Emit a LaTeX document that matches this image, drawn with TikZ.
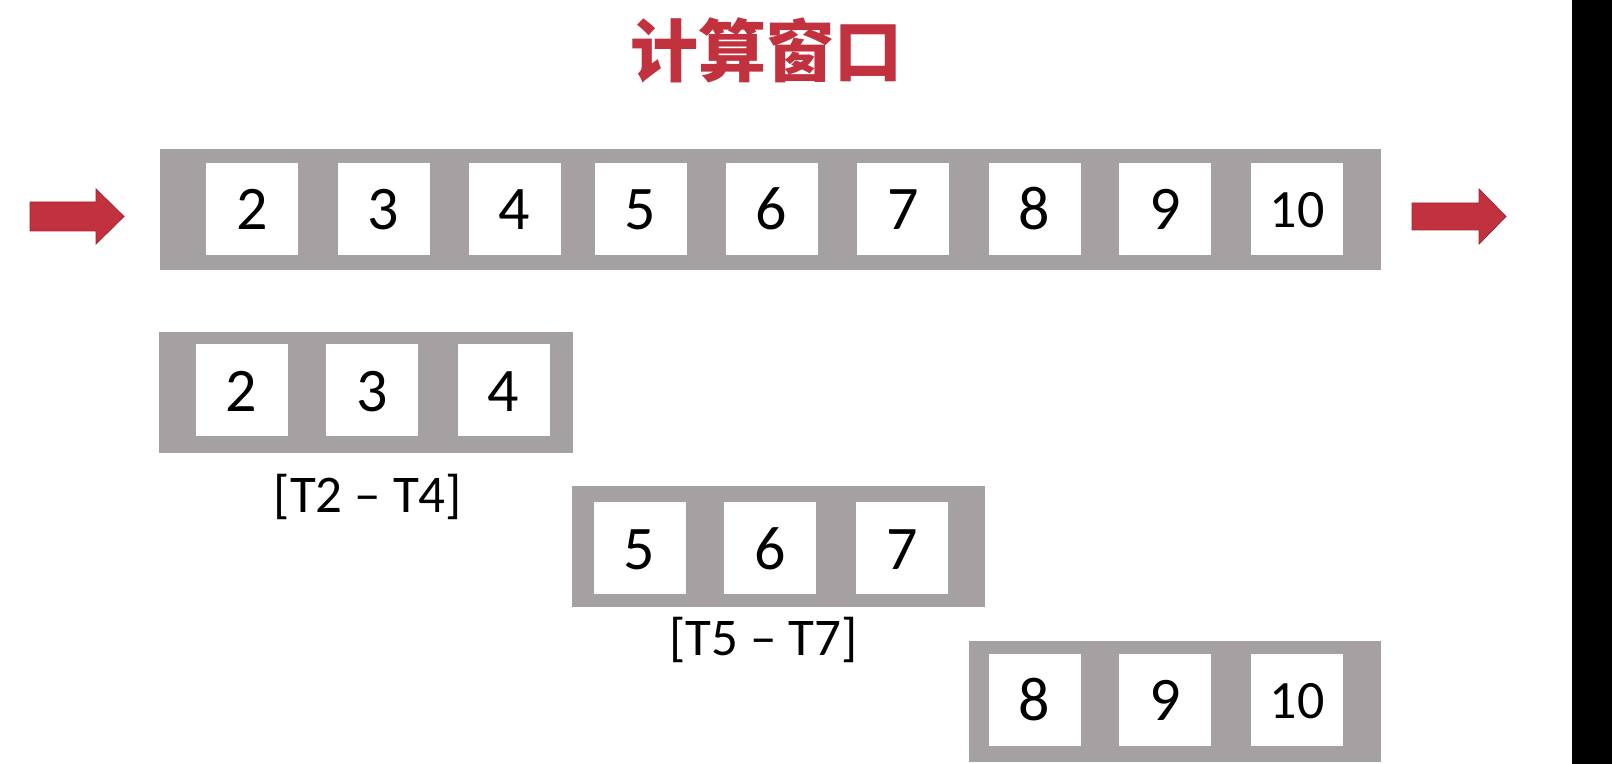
\documentclass[tikz,border=0pt]{standalone}
\usepackage{fontspec}
\setmainfont{Carlito}
\newfontfamily\cjk{Noto Sans CJK SC}
\definecolor{bandgray}{HTML}{A5A1A2}
\definecolor{arrowred}{HTML}{C1313E}
\definecolor{arrowedge}{HTML}{A52536}
\begin{document}
\begin{tikzpicture}[x=0.5pt,y=-0.5pt,
  band/.style={fill=bandgray,draw=none,inner sep=0pt,minimum height=60.5pt},
  cell/.style={fill=white,draw=none,inner sep=0pt,minimum width=46pt,minimum height=46pt},
  digit/.style={inner sep=0pt,anchor=base,font=\fontsize{31pt}{31pt}\selectfont},
  small digit/.style={inner sep=0pt,anchor=base,font=\fontsize{27pt}{27pt}\selectfont},
  rangelabel/.style={inner sep=0pt,anchor=base,font=\fontsize{26.5pt}{26.5pt}\selectfont},
  bigarrow/.style={fill=arrowred,draw=arrowedge,line width=0.4pt,line join=miter}]
\useasboundingbox (0,0) rectangle (1612,764);
\fill[white] (0,0) rectangle (1612,764);
\fill[black] (1572,0) rectangle (1612,764);

% title
\node[inner sep=0pt,anchor=base,text=arrowred,font=\cjk\bfseries\fontsize{34pt}{34pt}\selectfont] (title) at (766,77) {计算窗口};

% arrows
\draw[bigarrow] (30,202) -- (96,202) -- (96,189) -- (124,216.5) -- (96,244) -- (96,231) -- (30,231) -- cycle;
\draw[bigarrow] (1412,203) -- (1479,203) -- (1479,189) -- (1506,216.5) -- (1479,244) -- (1479,230) -- (1412,230) -- cycle;

% top band
\node[band,minimum width=610.5pt] (top) at (770.5,209.5) {};
\foreach \n/\x in {2/252,3/383.5,4/514.5,5/640.5,6/771.5,7/903,8/1034.5,9/1165} {
  \node[cell] (t\n) at (\x,209) {};
  \node[digit] (td\n) at (\x,230) {\n};
}
\node[cell] (t10) at (1297,209) {};
\node[small digit] (td10) at (1297,228) {10};

% window 1
\node[band,minimum width=207pt] (w1) at (366,392.5) {};
\foreach \n/\x in {2/241.5,3/372,4/503.5} {
  \node[cell] (a\n) at (\x,390.5) {};
  \node[digit] (ad\n) at (\x,411.5) {\n};
}
\node[rangelabel] (l1) at (368,512) {[T2 – T4]};

% window 2
\node[band,minimum width=206.5pt] (w2) at (778.5,546.5) {};
\foreach \n/\x in {5/639.5,6/770,7/902} {
  \node[cell] (b\n) at (\x,548) {};
  \node[digit] (bd\n) at (\x,569) {\n};
}
\node[rangelabel] (l2) at (763.5,655) {[T5 – T7]};

% window 3
\node[band,minimum width=206pt] (w3) at (1175,701.5) {};
\foreach \n/\x in {8/1034.5,9/1165} {
  \node[cell] (c\n) at (\x,699.5) {};
  \node[digit] (cd\n) at (\x,720.5) {\n};
}
\node[cell] (c10) at (1297,699.5) {};
\node[small digit] (cd10) at (1297,718.5) {10};
\end{tikzpicture}
\end{document}
